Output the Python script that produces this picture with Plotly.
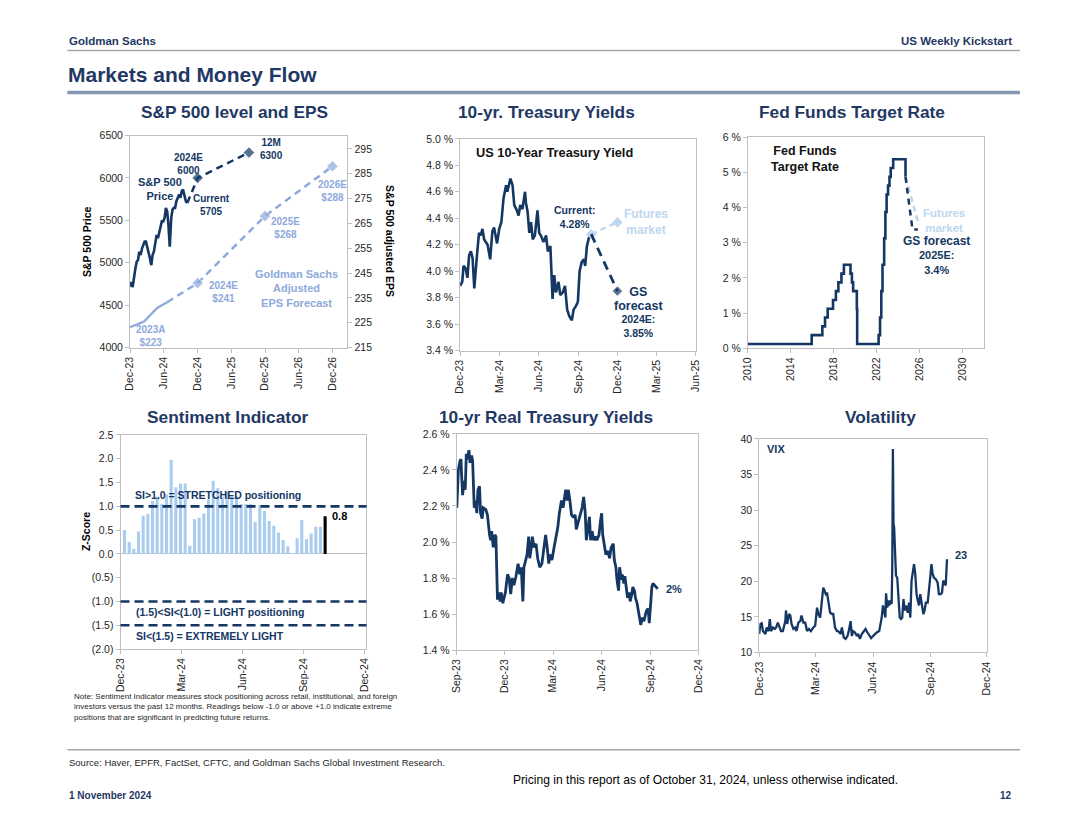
import pandas as pd
import plotly.graph_objects as go

# figure is drawn inside the 8px body margin of the page
W, H = 1064, 819
SC, BX, BY, M = 0.985, 8.0, 5.6, 8.0   # calibration of page -> photo
NAVY = "#143763"
TITLE = "#1F3864"
LIGHT = "#8EA9DB"
FUT = "#BDD7EE"
BAR = "#A9CCEF"
GRID = "#BFBFBF"
ARIAL = "Liberation Sans, Arial, sans-serif"

# ---------------- data ----------------
# S&P 500 (days since 2023-12-01)
spx_start = "2023-12-01"
spx_days = [0,7,14,22,29,36,43,50,57,65,72,79,86,93,101,108,115,122,129,136,144,151,158,165,172,180,187,194,201,208,215,223,230,237,244,251,258,266,273,280,287,294,302,309]
spx_vals = [4720,4774,4714,4853,4933,5012,5032,5131,5091,5171,5210,5250,5250,5190,5131,5052,4972,5091,5131,5250,5329,5290,5369,5448,5488,5488,5528,5647,5607,5448,5190,5528,5627,5647,5647,5726,5766,5805,5766,5845,5865,5805,5726,5705]
spx_fc_dates = ["2024-10-06", "2024-12-01", "2025-09-05"]
spx_fc_vals = [5705, 6000, 6300]
eps_hist_dates = ["2023-12-01", "2024-02-15", "2024-04-26", "2024-06-19"]
eps_hist_vals = [223.2, 225.5, 231.0, 233.3]
eps_fc_dates = ["2024-06-19", "2024-12-01", "2025-12-01", "2026-12-01"]
eps_fc_vals = [233.3, 241, 268, 288]

# 10-yr Treasury (days since 2023-12-01)
ty_start = "2023-12-01"
ty_days = [0,5,8,13,17,21,25,29,33,37,40,44,48,52,56,64,70,75,79,86,91,96,101,107,110,117,122,126,132,136,140,145,151,153,157,161,165,169,174,180,184,188,194,200,204,210,215,219,223,229,233,239,244,249,254,260,264,270,274,278,283,288,291,295,301,305]
ty_vals = [3.89,3.92,4.04,4.02,3.95,4.12,4.15,4.10,3.87,4.08,4.15,4.29,4.27,4.32,4.24,4.20,4.09,4.30,4.33,4.21,4.32,4.37,4.55,4.65,4.60,4.70,4.65,4.50,4.46,4.42,4.50,4.47,4.60,4.52,4.45,4.29,4.37,4.24,4.27,4.46,4.29,4.27,4.22,4.27,4.15,4.19,3.79,3.97,3.84,3.92,3.82,3.84,3.89,3.71,3.66,3.63,3.71,3.74,3.77,4.00,4.07,4.09,4.04,4.19,4.27,4.28]
ty_fut_dates = ["2024-10-01", "2024-12-01"]
ty_fut_vals = [4.28, 4.37]
ty_gs_dates = ["2024-10-01", "2024-12-01"]
ty_gs_vals = [4.28, 3.85]

# Fed funds target (midpoint)
ff_dates = ["2010-01-01","2015-12-16","2016-12-14","2017-03-15","2017-06-14","2017-12-13","2018-03-21","2018-06-13","2018-09-26","2018-12-19","2019-07-31","2019-09-18","2019-10-30","2020-03-03","2020-03-15","2022-03-16","2022-05-04","2022-06-15","2022-07-27","2022-09-21","2022-11-02","2022-12-14","2023-02-01","2023-03-22","2023-05-03","2023-07-26","2024-09-18"]
ff_vals = [0.125,0.375,0.625,0.875,1.125,1.375,1.625,1.875,2.125,2.375,2.125,1.875,1.625,1.125,0.125,0.375,0.875,1.625,2.375,3.125,3.875,4.375,4.625,4.875,5.125,5.375,4.875]
ff_fut_dates = ["2024-09-18", "2025-11-15"]
ff_fut_vals = [4.875, 3.6]
ff_gs_dates = ["2024-09-18", "2025-05-15", "2025-11-15"]
ff_gs_vals = [4.875, 3.375, 3.375]

# Sentiment indicator (weekly)
si_start = "2023-12-07"
si_vals = [0.50,0.25,0.11,0.47,0.80,0.84,1.11,1.20,1.05,1.25,1.98,1.40,1.48,1.48,0.17,0.73,0.76,0.85,1.15,1.54,1.38,1.20,1.30,1.20,1.22,1.05,1.05,1.05,0.67,1.03,0.90,0.69,0.59,0.45,0.29,0.16,0.01,0.33,0.71,0.31,0.43,0.57,0.57,0.79]
si_thresholds = [1.0, -1.0, -1.5]
si_ticks = [-2, -1.5, -1, -0.5, 0, 0.5, 1, 1.5, 2, 2.5]
si_ticktext = ["(2.0)", "(1.5)", "(1.0)", "(0.5)", "0.0", "0.5", "1.0", "1.5", "2.0", "2.5"]

# 10-yr real yields (days since 2023-09-01)
ry_start = "2023-09-01"
ry_days = [0,3,6,8,9,11,14,16,18,20,23,25,28,30,33,35,38,40,43,45,48,50,55,58,62,64,66,69,72,74,77,79,82,84,87,89,92,96,99,102,105,108,112,116,119,122,125,127,130,133,136,138,141,143,146,150,153,157,161,165,168,171,174,176,180,184,187,191,194,198,201,204,206,209,211,214,217,220,224,226,230,234,237,240,243,245,248,251,253,256,259,262,265,269,272,274,276,279,282,286,289,292,296,298,301,303,306,308,311,313,316,318,321,323,326,328,331,333,336,338,341,343,346,348,351,354,357,359,362,364,367,369,371,374,376,380]
ry_vals = [2.19,2.40,2.45,2.46,2.38,2.26,2.34,2.29,2.49,2.46,2.51,2.44,2.48,2.45,2.19,2.23,2.16,2.29,2.31,2.16,2.13,2.19,2.18,2.15,2.04,2.01,2.06,1.97,2.04,2.03,1.68,1.72,1.67,1.72,1.66,1.69,1.72,1.82,1.80,1.71,1.80,1.76,1.81,1.88,1.82,1.86,1.67,1.86,1.90,1.93,2.03,1.91,1.97,2.03,1.97,1.99,1.91,1.86,1.88,1.99,2.04,1.97,1.88,1.93,1.90,1.97,2.01,2.08,2.16,2.23,2.19,2.25,2.29,2.23,2.29,2.23,2.15,2.14,2.15,2.07,2.12,2.16,2.19,2.25,2.16,2.01,2.08,2.14,2.01,2.06,2.01,2.03,2.01,2.04,2.12,2.16,2.04,1.97,1.93,1.95,1.91,1.97,1.99,1.90,1.86,1.79,1.73,1.86,1.79,1.82,1.77,1.81,1.73,1.69,1.72,1.67,1.71,1.75,1.73,1.69,1.66,1.62,1.56,1.54,1.58,1.56,1.60,1.62,1.63,1.55,1.67,1.75,1.77,1.76,1.75,1.74]

# VIX (days since 2023-12-01)
vix_start = "2023-12-01"
vix_days = [0,2,4,6,10,12,15,17,19,22,25,27,30,33,35,38,42,43,45,48,50,52,55,58,60,63,66,68,71,74,77,80,83,87,90,93,95,98,101,103,105,107,109,111,114,117,119,122,125,127,131,133,136,139,142,144,147,149,151,154,157,159,162,165,168,171,174,177,180,183,186,189,193,195,197,199,201,203,204,206,208,209,211,213,214,215,216,217,218,220,222,224,226,228,230,232,234,236,239,241,243,245,247,249,251,253,255,257,259,262,264,266,268,271,273,275,277,279,281,284,287,289,292,294,296,299,300,302]
vix_vals = [12.6,14.0,14.1,13.0,12.6,13.5,13.0,14.7,13.0,13.5,13.3,13.5,14.2,13.5,13.0,13.0,14.4,15.9,14.0,15.4,15.2,14.0,13.3,13.5,13.0,14.2,14.4,15.2,14.2,14.2,13.0,13.3,13.0,13.5,13.75,16.3,15.4,14.9,17.3,19.1,18.7,18.2,18.4,17.3,15.6,15.4,15.4,13.5,13.0,13.0,12.6,13.5,12.1,11.9,12.3,13.0,14.4,12.3,13.0,12.8,12.3,12.6,11.9,12.6,13.0,13.3,12.8,12.3,12.0,12.3,12.6,12.8,13.0,13.75,14.9,16.6,15.9,14.9,18.3,16.3,17.3,16.6,17.3,16.8,22.0,38.6,28.0,27.6,25.2,20.8,20.5,17.3,14.9,14.7,14.9,17.5,15.9,16.6,15.6,17.0,14.9,20.1,21.1,22.4,21.0,18.2,17.3,16.6,18.2,16.1,15.4,15.9,17.0,17.0,19.4,20.5,22.4,21.0,20.5,20.3,19.8,18.2,18.2,18.4,20.1,19.6,19.4,23.1]


def to_dates(start, days):
    return pd.Timestamp(start) + pd.to_timedelta(days, unit="D")


spx_x = to_dates(spx_start, spx_days)
ty_x = to_dates(ty_start, ty_days)
ry_x = to_dates(ry_start, ry_days)
vix_x = to_dates(vix_start, vix_days)
si_x = pd.date_range(si_start, periods=len(si_vals), freq="7D")


# ---------------- helpers ----------------
def px(x):
    return ((x - BX) / SC - M) / W


def py(y):
    return 1 - ((y - BY) / SC - M) / H


fig = go.Figure()


def line(x, y, xa, ya, color=NAVY, width=2.5, dash=None, mode="lines", marker=None):
    fig.add_trace(go.Scatter(x=list(x), y=list(y), xaxis=xa, yaxis=ya, mode=mode,
                             line=dict(color=color, width=width, dash=dash),
                             marker=marker, hoverinfo="skip", showlegend=False))


# Panel 1: S&P
line(spx_x, spx_vals, "x", "y", width=2.6)
line(spx_fc_dates, spx_fc_vals, "x", "y", dash="7px,5px", width=2.5, mode="lines+markers",
     marker=dict(symbol="diamond", size=[0, 9, 9], color=NAVY))
line(eps_hist_dates, eps_hist_vals, "x", "y2", color=LIGHT, width=2.3)
line(eps_fc_dates, eps_fc_vals, "x", "y2", color=LIGHT, dash="7px,5px", width=2.5, mode="lines+markers",
     marker=dict(symbol="diamond", size=[0, 9, 9, 9], color=LIGHT))

# Panel 2: 10-yr
line(ty_x, ty_vals, "x2", "y3", width=2.6)
line(ty_fut_dates, ty_fut_vals, "x2", "y3", color=FUT, dash="6px,4px", width=2.3, mode="lines+markers",
     marker=dict(symbol="diamond", size=8, color=FUT))
line(ty_gs_dates, ty_gs_vals, "x2", "y3", dash="9px,6px", width=2.8, mode="lines+markers",
     marker=dict(symbol="diamond", size=[0, 8], color=NAVY))

# Panel 3: Fed funds
fig.add_trace(go.Scatter(x=ff_dates, y=ff_vals, xaxis="x3", yaxis="y4", mode="lines",
                         line=dict(color=NAVY, width=2.6, shape="hv"), hoverinfo="skip", showlegend=False))
line(ff_fut_dates, ff_fut_vals, "x3", "y4", color=FUT, dash="6px,4px", width=2.5)
line(ff_gs_dates, ff_gs_vals, "x3", "y4", dash="6px,5px", width=2.5)

# Panel 4: Sentiment
fig.add_trace(go.Bar(x=si_x[:-1], y=si_vals[:-1], xaxis="x4", yaxis="y5", marker=dict(color=BAR, line=dict(width=0)),
                     width=4.6 * 86400000, hoverinfo="skip", showlegend=False))
fig.add_trace(go.Bar(x=si_x[-1:], y=si_vals[-1:], xaxis="x4", yaxis="y5", marker=dict(color="#000000", line=dict(width=0)),
                     width=4.6 * 86400000, hoverinfo="skip", showlegend=False))

# Panel 5: real yields
line(ry_x, ry_vals, "x5", "y6", width=2.8)

# Panel 6: VIX
line(vix_x, vix_vals, "x6", "y7", width=2.3)

# ---------------- axes ----------------
TICKFONT = dict(family=ARIAL, size=10.5, color="#262626")


def xax(dom, anchor, rng, dtick, tick0, fmt="%b-%y", typ="date"):
    return dict(domain=[px(dom[0]), px(dom[1])], anchor=anchor, type=typ, range=rng, dtick=dtick, tick0=tick0,
                tickformat=fmt, tickangle=-90, showline=True, mirror=True, linecolor=GRID, linewidth=1,
                ticks="outside", ticklen=4, tickcolor=GRID, showgrid=False, zeroline=False, tickfont=TICKFONT)


def yax(dom, anchor, rng, dtick=None, **kw):
    d = dict(domain=[py(dom[1]), py(dom[0])], anchor=anchor, range=rng, dtick=dtick, showline=True, mirror=True,
             linecolor=GRID, linewidth=1, ticks="outside", ticklen=4, tickcolor=GRID, showgrid=False,
             zeroline=False, tickfont=TICKFONT)
    d.update(kw)
    return d


fig.update_layout(
    width=W, height=H, margin=dict(l=0, r=0, t=0, b=0), paper_bgcolor="white", plot_bgcolor="white",
    showlegend=False, barmode="overlay",
    xaxis=xax((130.5, 347), "y", ["2023-12-01", "2027-02-20"], "M6", "2023-12-01"),
    yaxis=yax((135, 347), "x", [4000, 6500], 500),
    yaxis2=dict(overlaying="y", side="right", anchor="x", range=[215, 300.4], tickvals=[215, 225, 235, 245, 255, 265, 275, 285, 295],
                showline=True, linecolor=GRID, linewidth=1, ticks="outside", ticklen=4, tickcolor=GRID,
                showgrid=False, zeroline=False, tickfont=TICKFONT),
    xaxis2=xax((459.3, 694), "y3", ["2023-12-01", "2025-06-01"], "M3", "2023-12-01"),
    yaxis3=yax((138.3, 350), "x2", [3.4, 5.0], 0.2, tickformat=".1f", ticksuffix=" %"),
    xaxis3=xax((746, 981.7), "y4", ["2010-01-01", "2032-02-01"], "M48", "2010-01-01", fmt="%Y"),
    yaxis4=yax((136.7, 347.7), "x3", [0, 6], 1, tickformat="d", ticksuffix=" %"),
    xaxis4=xax((121, 366), "y5", ["2023-12-01", "2024-12-04"], "M3", "2023-12-01"),
    yaxis5=yax((434.3, 648.3), "x4", [-2, 2.5], None, tickvals=si_ticks, ticktext=si_ticktext,
               zeroline=True, zerolinecolor=GRID, zerolinewidth=1),
    xaxis5=xax((456, 696.7), "y6", ["2023-09-01", "2024-12-01"], "M3", "2023-09-01"),
    yaxis6=yax((433.3, 649.3), "x5", [1.4, 2.6], 0.2, tickformat=".1f", ticksuffix=" %"),
    xaxis6=xax((757.3, 984), "y7", ["2023-12-01", "2024-12-01"], "M3", "2023-12-01"),
    yaxis7=yax((438.3, 651.7), "x6", [10, 40], 5),
)

# threshold dashed lines in sentiment panel
for t in si_thresholds:
    fig.add_shape(type="line", xref="x4 domain", yref="y5", x0=0, x1=1, y0=t, y1=t,
                  line=dict(color=NAVY, width=2.6, dash="9px,5px"), layer="above")

# page rules
for yy, col, wd in [(50, "#A6A6A6", 1.5), (92, "#8497B0", 3.5), (749, "#A6A6A6", 1.5)]:
    fig.add_shape(type="line", xref="paper", yref="paper", x0=px(68), x1=px(1017), y0=py(yy), y1=py(yy),
                  line=dict(color=col, width=wd))


def ann(text, x, y, xref="paper", yref="paper", size=10, color=NAVY, bold=True, xanchor="center",
        yanchor="middle", family=ARIAL, angle=0, align="center"):
    if bold:
        text = "<b>" + text + "</b>"
    fig.add_annotation(text=text, x=x, y=y, xref=xref, yref=yref, showarrow=False, xanchor=xanchor,
                       yanchor=yanchor, textangle=angle, align=align,
                       font=dict(family=family, size=size, color=color))


# header / footer
ann("Goldman Sachs", px(68), py(40), size=11.5, color=TITLE, xanchor="left")
ann("US Weekly Kickstart", px(1011), py(40), size=11.5, color=TITLE, xanchor="right")
ann("Markets and Money Flow", px(67), py(74), size=21, color=TITLE, xanchor="left")
ann("Source: Haver, EPFR, FactSet, CFTC, and Goldman Sachs Global Investment Research.", px(68), py(762),
    size=9.5, color="#262626", bold=False, xanchor="left")
ann("Pricing in this report as of October 31, 2024, unless otherwise indicated.", px(510), py(779),
    size=12.1, color="#000000", bold=False, xanchor="left")
ann("1 November 2024", px(68), py(795), size=10, color=TITLE, xanchor="left")
ann("12", px(1011), py(795), size=10, color=TITLE, xanchor="right")

# panel titles
for t, xx, yy in [("S&P 500 level and EPS", 235, 111), ("10-yr. Treasury Yields", 545, 111),
                  ("Fed Funds Target Rate", 850, 111), ("Sentiment Indicator", 228, 416),
                  ("10-yr Real Treasury Yields", 545, 416), ("Volatility", 878, 416)]:
    ann(t, px(xx), py(yy), size=17.3, color=TITLE)

# axis titles
ann("S&P 500 Price", px(87), py(241), size=10.5, color="#000000", angle=-90)
ann("S&P 500 adjusted EPS", px(390), py(240), size=10.5, color="#000000", angle=90)
ann("Z-Score", px(86), py(531), size=10.5, color="#000000", angle=-90)

# Panel 1 labels
ann("S&P 500<br>Price", "2024-05-09", 5875, "x", "y", size=11)
ann("2024E<br>6000", "2024-10-10", 6170, "x", "y", size=10)
ann("12M<br>6300", "2025-10-22", 6343, "x", "y", size=10, xanchor="left")
ann("Current<br>5705", "2025-02-13", 5683, "x", "y", size=10)
ann("2026E<br>$288", "2026-12-01", 277.9, "x", "y2", size=10, color=LIGHT)
ann("2025E<br>$268", "2026-03-23", 263.1, "x", "y2", size=10, color=LIGHT)
ann("2024E<br>$241", "2025-04-20", 237.3, "x", "y2", size=10, color=LIGHT)
ann("2023A<br>$223", "2024-03-19", 219.8, "x", "y2", size=10, color=LIGHT)
ann("Goldman Sachs<br>Adjusted<br>EPS Forecast", "2026-05-20", 238.7, "x", "y2", size=11, color=LIGHT)

# Panel 2 labels
ann("US 10-Year Treasury Yield", 0.06, 0.934, "x2 domain", "y3 domain", size=12.8, color="#111111", xanchor="left")
ann("Current:<br>4.28%", "2024-08-23", 4.41, "x2", "y3", size=10.5)
ann("Futures<br>market", "2025-02-06", 4.37, "x2", "y3", size=12, color=FUT)
ann("<span style='font-size:12.5px'>GS<br>forecast</span><br>2024E:<br>3.85%", "2025-01-18", 3.69, "x2", "y3", size=10.5)

# Panel 3 labels
ann("Fed Funds<br>Target Rate", 0.24, 0.898, "x3 domain", "y4 domain", size=12.5, color="#111111")
ann("Futures<br>market", "2028-05-01", 3.63, "x3", "y4", size=11.5, color=FUT)
ann("<span style='font-size:12px'>GS forecast</span><br>2025E:<br>3.4%", "2027-07-25", 2.66, "x3", "y4", size=11)

# Panel 4 labels
ann("SI>1.0 = STRETCHED positioning", 0.05, 1.24, "x4 domain", "y5", size=10.5, xanchor="left")
ann("(1.5)<SI<(1.0) = LIGHT positioning", 0.053, -1.215, "x4 domain", "y5", size=10.5, xanchor="left")
ann("SI<(1.5) = EXTREMELY LIGHT", 0.053, -1.72, "x4 domain", "y5", size=10.5, xanchor="left")
ann("0.8", "2024-10-10", 0.80, "x4", "y5", size=11, color="#000000", xanchor="left")
ann("Note: Sentiment Indicator measures stock positioning across retail, institutional, and foreign<br>"
    "investors versus the past 12 months. Readings below -1.0 or above +1.0 indicate extreme<br>"
    "positions that are significant in predicting future returns.",
    px(73), py(706), size=8.0, color="#262626", bold=False, xanchor="left", align="left")

# Panel 5 / 6 labels
ann("2%", "2024-09-27", 1.74, "x5", "y6", size=11, xanchor="left")
ann("VIX", 0.024, 0.953, "x6 domain", "y7 domain", size=11, xanchor="left")
ann("23", "2024-10-08", 23.7, "x6", "y7", size=11, xanchor="left")

fig.write_html("out.html")
